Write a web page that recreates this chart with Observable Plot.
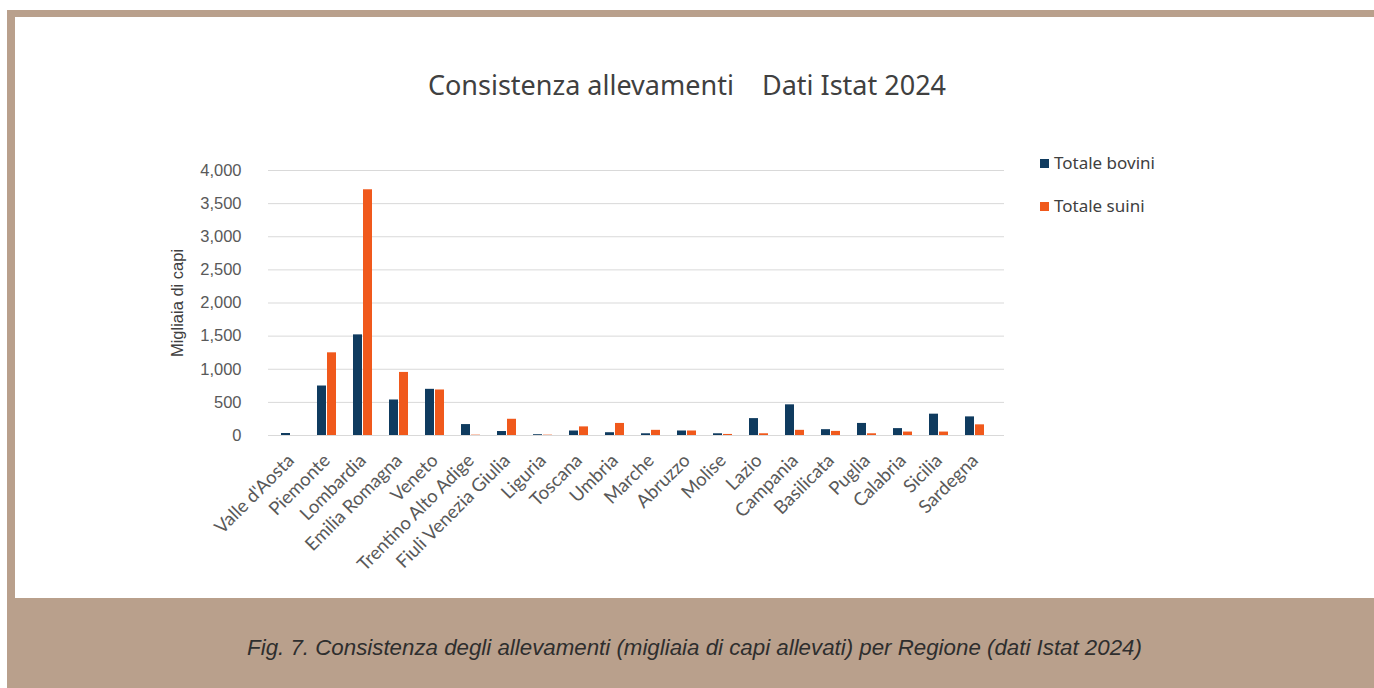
<!DOCTYPE html>
<html>
<head>
<meta charset="utf-8">
<script src="https://cdn.jsdelivr.net/npm/d3@7"></script>
<script src="https://cdn.jsdelivr.net/npm/@observablehq/plot@0.6"></script>
<style>
  html, body { margin: 0; padding: 0; background: #ffffff; }
  #page { position: relative; width: 1374px; height: 688px; overflow: hidden; }
  #frame { position: absolute; left: 7px; top: 10px; width: 1367px; height: 678px; background: #b9a08c; }
  #panel { position: absolute; left: 15px; top: 17px; width: 1359px; height: 581px; background: #ffffff; }
  #title { position: absolute; left: 0; width: 1374px; top: 66px; text-align: center;
           font-family: "Noto Sans", sans-serif; font-size: 27px; color: #404040; white-space: pre; letter-spacing: 0px; }
  #chart { position: absolute; left: 15px; top: 150px; }
  .leg { position: absolute; left: 1040px; font-family: "Noto Sans", sans-serif; font-size: 17px; color: #404040; }
  .leg span.sw { display: inline-block; width: 9px; height: 9px; margin-right: 5px; vertical-align: 1px; }
  #caption { position: absolute; left: 15px; width: 1359px; top: 635px; text-align: center;
             font-family: "Liberation Sans", Arial, sans-serif; font-style: italic; font-size: 22.3px; color: #2e2e2e; }
</style>
</head>
<body>
<div id="page">
  <div id="frame"></div>
  <div id="panel"></div>
  <div id="title">Consistenza allevamenti    Dati Istat 2024</div>
  <div id="chart"></div>
  <div class="leg" style="top:151px"><span class="sw" style="background:#0f3b5f"></span>Totale bovini</div>
  <div class="leg" style="top:194px"><span class="sw" style="background:#f0591c"></span>Totale suini</div>
  <div id="caption">Fig. 7. Consistenza degli allevamenti (migliaia di capi allevati) per Regione (dati Istat 2024)</div>
</div>
<script>
const regions = ["Valle d'Aosta", "Piemonte", "Lombardia", "Emilia Romagna", "Veneto",
  "Trentino Alto Adige", "Fiuli Venezia Giulia", "Liguria", "Toscana", "Umbria", "Marche",
  "Abruzzo", "Molise", "Lazio", "Campania", "Basilicata", "Puglia", "Calabria", "Sicilia", "Sardegna"];
const bovini = [30, 747, 1519, 536, 697, 165, 60, 12, 68, 42, 26, 68, 26, 255, 463, 88, 182, 104, 322, 281];
const suini  = [0, 1248, 3709, 952, 687, 5, 245, 5, 130, 182, 78, 68, 16, 26, 78, 62, 26, 52, 52, 161];
const yTicks = [0, 500, 1000, 1500, 2000, 2500, 3000, 3500, 4000];

const dataB = regions.map((r, i) => ({region: r, value: bovini[i]}));
const dataS = regions.map((r, i) => ({region: r, value: suini[i]}));

const chart = Plot.plot({
  width: 1359,
  height: 448,
  marginTop: 20,
  marginBottom: 163,
  marginLeft: 247,
  marginRight: 370,
  style: {background: "transparent", fontFamily: "Lato, sans-serif", color: "#595959"},
  x: {domain: regions, padding: 0.46, label: null},
  y: {domain: [0, 4000], label: null},
  marks: [
    Plot.gridY(yTicks, {stroke: "#d9d9d9", strokeOpacity: 1, strokeWidth: 1, insetLeft: 6}),
    Plot.axisY(yTicks, {tickSize: 0, tickPadding: 21, tickFormat: d3.format(","),
      fontSize: 16.5, fontFamily: "Liberation Sans, Arial, sans-serif", label: null}),
    Plot.text(["Migliaia di capi"], {frameAnchor: "left", textAnchor: "middle", dx: -85, rotate: -90,
      fontSize: 16.5, fontFamily: "Liberation Sans, Arial, sans-serif", fill: "#404040"}),
    Plot.axisX({tickSize: 0, tickRotate: -45, tickPadding: 22, fontSize: 18.5, label: null}),
    Plot.barY(dataB, {x: "region", y: "value", fill: "#0f3b5f", insetRight: 10}),
    Plot.barY(dataS, {x: "region", y: "value", fill: "#f0591c", insetLeft: 10})
  ]
});
document.getElementById("chart").appendChild(chart);
</script>
</body>
</html>
